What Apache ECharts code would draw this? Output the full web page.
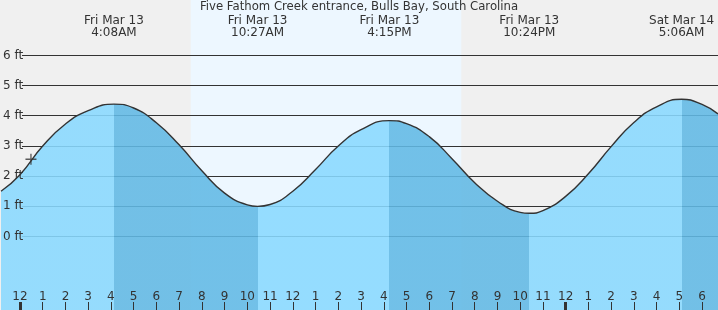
<!DOCTYPE html>
<html>
<head>
<meta charset="utf-8">
<script src="https://cdn.jsdelivr.net/npm/echarts@6/dist/echarts.min.js"></script>
<style>html,body{margin:0;padding:0;background:#f0f0f0;}#c{width:718px;height:310px;}</style>
</head>
<body>
<div id="c"></div>
<script>
// ---- data ----
const titleText = 'Five Fathom Creek entrance, Bulls Bay, South Carolina';
// hours since midnight Fri Mar 13 (local), tide height in feet
const tideHours = [-0.834, 0, 1, 2, 3, 4.133, 5, 6, 7, 8, 9, 10, 10.45, 11, 12, 13, 14, 15, 16.25, 17, 18, 19, 20, 21, 22, 22.4, 23, 24, 25, 26, 27, 28, 29.1, 30, 30.70];
const tideFeet  = [1.50, 2.05, 3.0, 3.73, 4.17, 4.39, 4.26, 3.77, 3.04, 2.18, 1.44, 1.05, 1.0, 1.06, 1.5, 2.22, 3.0, 3.54, 3.84, 3.74, 3.31, 2.58, 1.78, 1.17, 0.8, 0.77, 0.86, 1.33, 2.08, 2.98, 3.78, 4.3, 4.55, 4.38, 4.06];
const eventHours = [4.133, 10.45, 16.25, 22.4, 29.1];
const eventTypes = ['H', 'L', 'H', 'L', 'H'];
const eventDates = ['Fri Mar 13', 'Fri Mar 13', 'Fri Mar 13', 'Fri Mar 13', 'Sat Mar 14'];
const eventTimes = ['4:08AM', '10:27AM', '4:15PM', '10:24PM', '5:06AM'];
const nowHour = 0.483, nowFeet = 2.56;
const sunriseHour = 7.51, sunsetHour = 19.41;
const gridFeet = [0, 1, 2, 3, 4, 5, 6];
const tickHours = [];
for (let h = 0; h <= 30; h++) { tickHours.push(h); }
const tickLabelList = ['12','1','2','3','4','5','6','7','8','9','10','11','12','1','2','3','4','5','6','7','8','9','10','11','12','1','2','3','4','5','6'];
const midnightHours = [0, 24];

// ---- chart ----
const X_MIN = -0.8344, X_MAX = 30.70;
const Y_MIN = -2.436, Y_MAX = 7.840;
const FONT = 'DejaVu Sans';
const LIGHT = '#89d9ff', DARK = '#61b9e5';

const pieces = [];
let prev = X_MIN - 1;
for (let i = 0; i < eventHours.length; i++) {
  const falling = eventTypes[i] === 'L';
  pieces.push({ gte: prev, lt: eventHours[i], color: falling ? DARK : LIGHT });
  prev = eventHours[i];
}
pieces.push({ gte: prev, lte: X_MAX + 1, color: eventTypes[eventTypes.length - 1] === 'H' ? DARK : LIGHT });

const chart = echarts.init(document.getElementById('c'), null, { renderer: 'canvas' });
chart.setOption({
  animation: false,
  backgroundColor: '#f0f0f0',
  title: {
    text: titleText, left: 'center', top: 1, padding: 0,
    textStyle: { fontSize: 11.7, fontWeight: 'normal', color: '#333', fontFamily: FONT }
  },
  grid: { left: 0, right: 0, top: 0, bottom: 0 },
  xAxis: [{
    type: 'value', min: X_MIN, max: X_MAX, position: 'bottom', z: 10,
    axisLine: { show: false, onZero: false },
    splitLine: { show: false },
    axisTick: { show: true, inside: true, length: 8, customValues: tickHours, lineStyle: { color: '#333', width: 1 } },
    axisLabel: {
      show: true, inside: true, margin: 7, customValues: tickHours,
      color: '#333', fontSize: 12, fontFamily: FONT,
      formatter: function (v) { const i = tickHours.indexOf(Math.round(v)); return i >= 0 ? tickLabelList[i] : ''; }
    }
  }, {
    type: 'value', min: X_MIN, max: X_MAX, position: 'bottom', z: 11,
    axisLine: { show: false, onZero: false }, splitLine: { show: false },
    axisTick: { show: true, inside: true, length: 8, customValues: midnightHours, lineStyle: { color: '#333', width: 3 } },
    axisLabel: { show: false }
  }],
  yAxis: {
    type: 'value', min: Y_MIN, max: Y_MAX, position: 'left', z: 10,
    axisLine: { show: false, onZero: false }, axisTick: { show: false }, splitLine: { show: false },
    axisLabel: {
      inside: true, margin: 2, customValues: gridFeet,
      color: '#333', fontSize: 12, fontFamily: FONT,
      formatter: '{value} ft'
    }
  },
  visualMap: {
    show: false, type: 'piecewise', dimension: 0, seriesIndex: 2, pieces: pieces
  },
  series: [
    {
      type: 'line', data: [], z: 1, silent: true,
      markArea: {
        silent: true,
        itemStyle: { color: '#edf7ff' },
        data: [[{ xAxis: sunriseHour, yAxis: Y_MIN }, { xAxis: sunsetHour, yAxis: Y_MAX }]]
      }
    },
    {
      type: 'custom', z: 2, silent: true,
      data: gridFeet.map(v => [0, v]),
      renderItem: function (params, api) {
        const p = api.coord([0, api.value(1)]);
        const y = Math.round(p[1] - 0.5) + 0.5;
        return { type: 'line', shape: { x1: 22, y1: y, x2: 718, y2: y }, style: { stroke: '#333', lineWidth: 1 } };
      }
    },
    {
      type: 'line', z: 3, smooth: 0.5, symbol: 'none', silent: true,
      data: tideHours.map((h, i) => [h, tideFeet[i]]),
      lineStyle: { color: '#333', width: 1.4 },
      areaStyle: { opacity: 0.88, origin: 'start' }
    },
    {
      type: 'scatter', z: 5, silent: true,
      symbol: 'path://M0,4.4h10v1.2h-10zM4.4,0h1.2v10h-1.2z', symbolSize: 11,
      itemStyle: { color: '#333' },
      data: [[nowHour, nowFeet]]
    },
    {
      type: 'custom', z: 6, silent: true,
      data: eventHours.map((h, i) => [h, i]),
      renderItem: function (params, api) {
        const i = api.value(1);
        const p = api.coord([api.value(0), 0]);
        return {
          type: 'text', x: p[0], y: 15,
          style: {
            text: eventDates[i] + '\n' + eventTimes[i],
            align: 'center', verticalAlign: 'top', lineHeight: 12,
            fontSize: 12, fontFamily: FONT, fill: '#333'
          }
        };
      }
    }
  ]
});
</script>
</body>
</html>
